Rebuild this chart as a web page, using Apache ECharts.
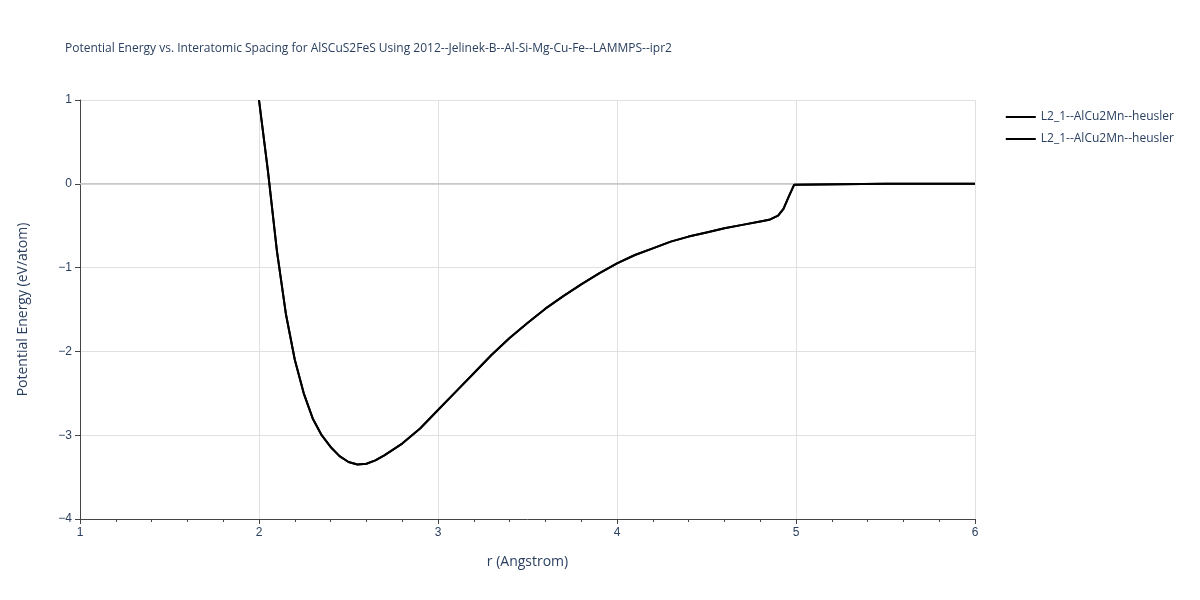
<!DOCTYPE html><html><head><meta charset="utf-8"><script src="https://cdn.jsdelivr.net/npm/echarts@6/dist/echarts.min.js"></script></head><body style="margin:0"><div id="c" style="width:1200px;height:600px"></div><script>
const rVals=[2.0,2.05,2.1,2.15,2.2,2.25,2.3,2.35,2.4,2.45,2.5,2.55,2.6,2.65,2.7,2.8,2.9,3.0,3.1,3.2,3.3,3.4,3.5,3.6,3.7,3.8,3.9,4.0,4.1,4.2,4.3,4.4,4.5,4.6,4.7,4.8,4.85,4.9,4.93,4.96,4.99,5.0,5.5,6.0];
const eVals=[1.0,0.15,-0.8,-1.55,-2.1,-2.5,-2.8,-3.0,-3.14,-3.25,-3.32,-3.35,-3.34,-3.3,-3.24,-3.1,-2.92,-2.7,-2.48,-2.26,-2.04,-1.84,-1.66,-1.49,-1.34,-1.2,-1.07,-0.95,-0.85,-0.77,-0.69,-0.63,-0.58,-0.53,-0.49,-0.45,-0.43,-0.38,-0.3,-0.15,-0.01,0,0,0];
const seriesNames=["L2_1--AlCu2Mn--heusler","L2_1--AlCu2Mn--heusler "];
const pts=rVals.map((r,i)=>[r,eVals[i]]);
const tc='#2a3f5f';
const ch=echarts.init(document.getElementById('c'));
const ser=seriesNames.map(n=>({name:n,type:'line',z:5,data:pts,showSymbol:false,lineStyle:{color:'#000',width:2},itemStyle:{color:'#000'}}));
ser.unshift({name:'zero',type:'line',z:1,data:[[1,0],[6,0]],showSymbol:false,lineStyle:{color:'#c8c8c8',width:1.5},silent:true});
ch.setOption({
title:{text:'Potential Energy vs. Interatomic Spacing for AlSCuS2FeS Using 2012--Jelinek-B--Al-Si-Mg-Cu-Fe--LAMMPS--ipr2',left:60,top:38,textStyle:{fontSize:12,fontWeight:'normal',color:tc,fontFamily:'Open Sans'}},
legend:{data:seriesNames,right:18,top:106,orient:'vertical',itemWidth:30,itemHeight:2,icon:'rect',textStyle:{color:tc,fontSize:12,fontFamily:'Open Sans'},itemGap:10},
grid:{left:80,right:225,top:100,bottom:81},
xAxis:{type:'value',min:1,max:6,interval:1,name:'r (Angstrom)',nameLocation:'middle',nameGap:36,nameTextStyle:{color:tc,fontSize:14,fontFamily:'Open Sans'},axisLabel:{color:tc,fontSize:12},axisLine:{onZero:false,lineStyle:{color:'#444'}},axisTick:{show:true,length:5,lineStyle:{color:'#444'}},minorTick:{show:true,splitNumber:5,length:3,lineStyle:{color:'#444'}},splitLine:{lineStyle:{color:'#e0e0e0'}}},
yAxis:{type:'value',min:-4,max:1,interval:1,name:'Potential Energy (eV/atom)',nameLocation:'middle',nameGap:50,nameTextStyle:{color:tc,fontSize:14,fontFamily:'Open Sans'},axisLabel:{color:tc,fontSize:12,formatter:v=>v<0?'−'+(-v):v},axisLine:{show:true,onZero:false,lineStyle:{color:'#444'}},axisTick:{show:true,length:5,lineStyle:{color:'#444'}},splitLine:{lineStyle:{color:'#e0e0e0'}}},
series:ser
});
</script></body></html>
